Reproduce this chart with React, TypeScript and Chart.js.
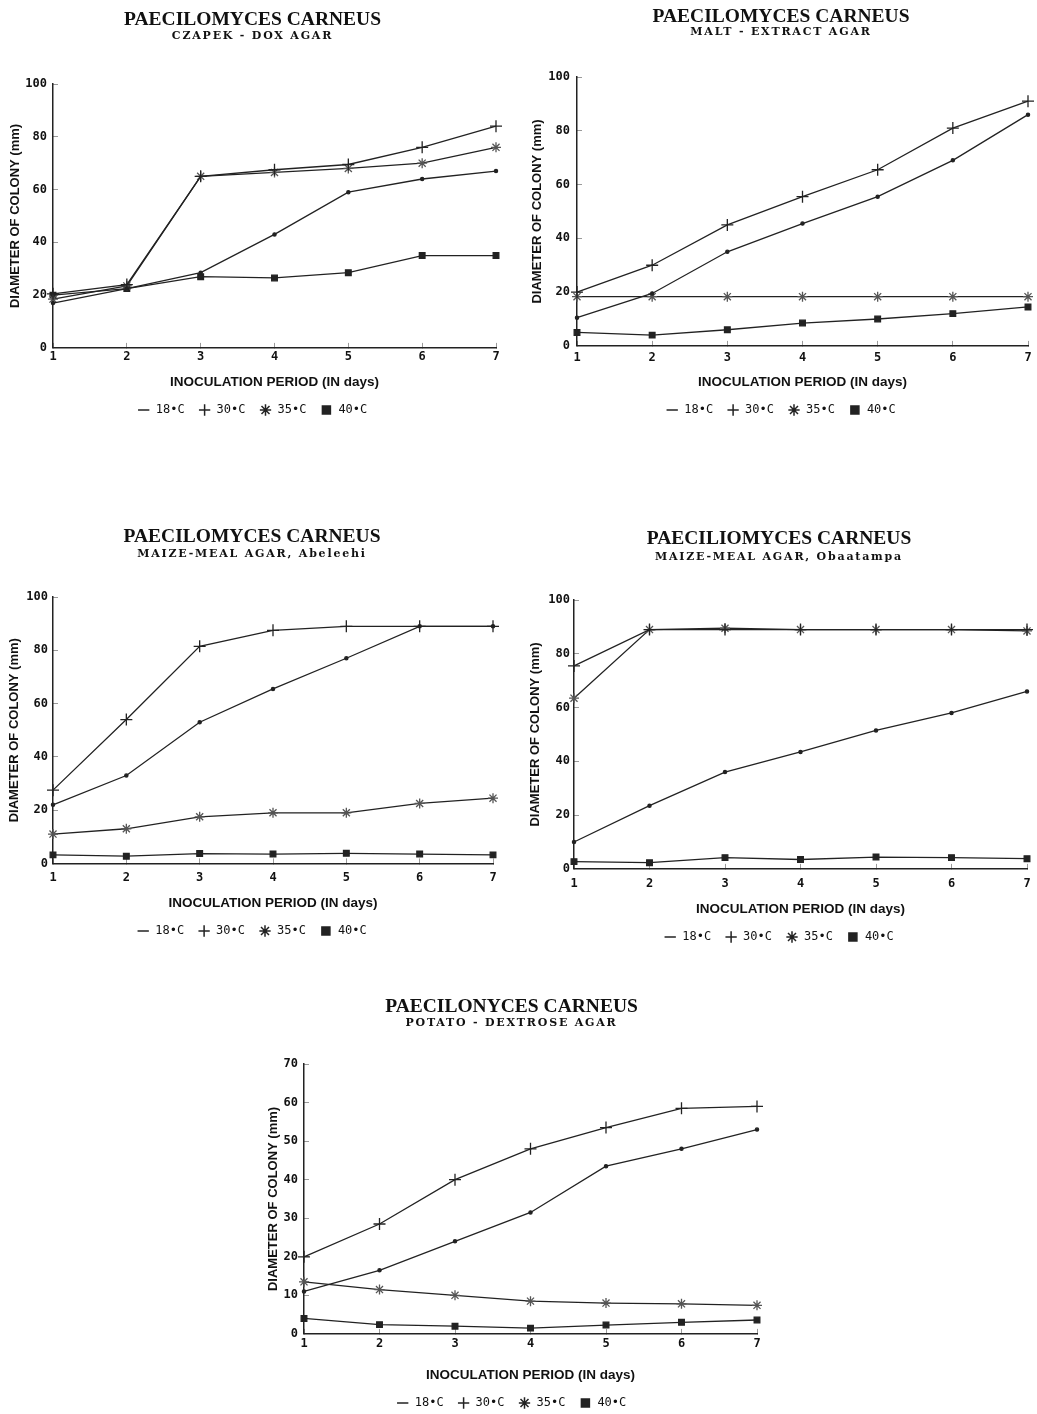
import { useEffect, useRef } from "react";
import { Chart, registerables } from "chart.js";

Chart.register(...registerables);

// ---------- data ----------
const days = ["1", "2", "3", "4", "5", "6", "7"];
const seriesLabels = ["18•C", "30•C", "35•C", "40•C"];

// Czapek-Dox agar
const czapek18 = [17, 22.5, 28.5, 43, 59, 64, 67];
const czapek30 = [20.5, 24, 65, 67.5, 69.5, 76, 84];
const czapek35 = [18.5, 23.5, 65, 66.5, 68, 70, 76];
const czapek40 = [20, 22.5, 27, 26.5, 28.5, 35, 35];

// Malt-extract agar
const malt18 = [10.5, 19.5, 35, 45.5, 55.5, 69, 86];
const malt30 = [20, 30, 45, 55.5, 65.5, 81, 91];
const malt35 = [18.3, 18.3, 18.3, 18.3, 18.3, 18.3, 18.3];
const malt40 = [5, 4, 6, 8.5, 10, 12, 14.5];

// Maize-meal agar, Abeleehi
const abeleehi18 = [22, 33, 53, 65.5, 77, 89, 89];
const abeleehi30 = [27.5, 54, 81.5, 87.5, 89, 89, 89];
const abeleehi35 = [11, 13, 17.5, 19, 19, 22.5, 24.5];
const abeleehi40 = [3.2, 2.7, 3.7, 3.5, 3.8, 3.5, 3.2];

// Maize-meal agar, Obaatampa
const obaatampa18 = [10, 23.5, 36, 43.5, 51.5, 58, 66];
const obaatampa30 = [75.5, 89, 89, 89, 89, 89, 89];
const obaatampa35 = [63.5, 89, 89.5, 89, 89, 89, 88.5];
const obaatampa40 = [2.7, 2.3, 4.2, 3.5, 4.4, 4.2, 3.8];

// Potato-dextrose agar
const potato18 = [11, 16.5, 24, 31.5, 43.5, 48, 53];
const potato30 = [20, 28.5, 40, 48, 53.5, 58.5, 59];
const potato35 = [13.5, 11.5, 10, 8.5, 8, 7.8, 7.4];
const potato40 = [4, 2.4, 2, 1.5, 2.3, 3, 3.6];

const xAxisTitle = "INOCULATION PERIOD (IN days)";
const yAxisTitle = "DIAMETER OF COLONY (mm)";

// ---------- styles ----------
const INK = "#222222";
const TITLE_SIZE = 19.5;
const SUB_SIZE = 11;
const TEXT_SHIFT = 1.5;
const TICK_SIZE = 12;
const TICK_LH = TICK_SIZE * 1.2;
const TICK_HALF_W = 3.65;
const TICK_MARK = 5;
const XT_SIZE = 13.5;
const XT_LH = XT_SIZE * 1.2;
const YT_SIZE = 13;
const YT_LH = YT_SIZE * 1.2;
const LEG_SIZE = 12;
const LEG_PAD = 14;
const LEG_H = LEG_SIZE + LEG_PAD + 10;

const pointStyles = ["circle", "cross", "star", "rect"];
const pointRadii = [1.6, 6, 5, 4];
const legendStyles = ["line", "cross", "star", "rect"];

type Layout = {
  top: number; titleCX: number;
  areaLeft: number; areaRight: number; areaTop: number; areaBottom: number;
  titleCY: number; subCY: number; tickCY: number; xTitleCY: number;
  yTitleCX: number; yTickPad: number;
};

type Panel = {
  title: string; sub: string; series: number[][];
  yMax: number; yStep: number; layout: Layout;
};

const panels: Panel[] = [
  {
    title: "PAECILOMYCES CARNEUS", sub: "CZAPEK - DOX AGAR",
    series: [czapek18, czapek30, czapek35, czapek40], yMax: 100, yStep: 20,
    layout: { top: 0, titleCX: 252.5, areaLeft: 53, areaRight: 496, areaTop: 84, areaBottom: 347,
      titleCY: 18, subCY: 35, tickCY: 356, xTitleCY: 381, yTitleCX: 15, yTickPad: 6 },
  },
  {
    title: "PAECILOMYCES CARNEUS", sub: "MALT - EXTRACT AGAR",
    series: [malt18, malt30, malt35, malt40], yMax: 100, yStep: 20,
    layout: { top: 0, titleCX: 781, areaLeft: 577, areaRight: 1028, areaTop: 77, areaBottom: 345,
      titleCY: 15, subCY: 30, tickCY: 357, xTitleCY: 381, yTitleCX: 537, yTickPad: 7 },
  },
  {
    title: "PAECILOMYCES CARNEUS", sub: "MAIZE-MEAL AGAR, Abeleehi",
    series: [abeleehi18, abeleehi30, abeleehi35, abeleehi40], yMax: 100, yStep: 20,
    layout: { top: 520, titleCX: 252, areaLeft: 53, areaRight: 493, areaTop: 597, areaBottom: 863,
      titleCY: 535.5, subCY: 552.5, tickCY: 877.5, xTitleCY: 902.5, yTitleCX: 14, yTickPad: 5 },
  },
  {
    title: "PAECILIOMYCES CARNEUS", sub: "MAIZE-MEAL AGAR, Obaatampa",
    series: [obaatampa18, obaatampa30, obaatampa35, obaatampa40], yMax: 100, yStep: 20,
    layout: { top: 520, titleCX: 779, areaLeft: 574, areaRight: 1027, areaTop: 600, areaBottom: 868,
      titleCY: 537.5, subCY: 556, tickCY: 882.5, xTitleCY: 908, yTitleCX: 535, yTickPad: 4 },
  },
  {
    title: "PAECILONYCES CARNEUS", sub: "POTATO - DEXTROSE AGAR",
    series: [potato18, potato30, potato35, potato40], yMax: 70, yStep: 10,
    layout: { top: 990, titleCX: 511.5, areaLeft: 304, areaRight: 757, areaTop: 1064, areaBottom: 1333,
      titleCY: 1005.5, subCY: 1022, tickCY: 1343, xTitleCY: 1374, yTitleCX: 273, yTickPad: 6 },
  },
];

function metrics(l: Layout) {
  const tCY = l.titleCY + TEXT_SHIFT;
  const sCY = l.subCY + TEXT_SHIFT;
  const titlePadTop = Math.max(0, tCY - l.top - TITLE_SIZE / 2);
  const titleBottom = l.top + titlePadTop + TITLE_SIZE;
  const subPadTop = Math.max(0, sCY - titleBottom - SUB_SIZE / 2);
  const subPadBottom = Math.max(0, l.areaTop - (titleBottom + subPadTop + SUB_SIZE));
  const xH = l.xTitleCY - l.areaBottom + XT_LH / 2;
  const height = Math.ceil(l.areaBottom + xH + LEG_H - l.top);
  const xTickPad = Math.max(0, l.tickCY - l.areaBottom - TICK_LH / 2) + TICK_MARK;
  // full-width boxes (titles, legend) are centred between the left layout padding and
  // the right layout padding, i.e. on (boxLeft + areaRight) / 2
  const boxLeft = Math.round(2 * l.titleCX - l.areaRight);
  const left = Math.max(0, Math.min(boxLeft, Math.floor(l.yTitleCX - 12)));
  const padLeft = boxLeft - left;
  const padRight = Math.ceil(TICK_HALF_W + xTickPad + 0.5);
  const width = l.areaRight + padRight - left;
  const yW = l.areaLeft - boxLeft;
  const yTickPad = l.yTickPad + TICK_MARK;
  // may be negative: the rotated title then sits inside the left layout padding
  const yTitlePad = l.yTitleCX - boxLeft - YT_LH / 2;
  return { titlePadTop, subPadTop, subPadBottom, xH, height, left, width, padLeft, padRight, yW, xTickPad, yTickPad, yTitlePad };
}

// Typewriter-like loose spacing for the subtitle line only.
const subtitleSpacing = {
  id: "subtitleSpacing",
  afterLayout(chart: any) {
    const subText = chart.options.plugins.subtitle.text;
    (chart.boxes || []).forEach((box: any) => {
      if (box._spaced || !box.options || box.options.text !== subText || box.position !== "top") return;
      const orig = box.draw;
      box.draw = function (...args: any[]) {
        const ctx = chart.ctx as any;
        ctx.save();
        ctx.letterSpacing = "1.8px";
        orig.apply(box, args);
        ctx.restore();
      };
      box._spaced = true;
    });
  },
};

function buildConfig(p: Panel): any {
  const m = metrics(p.layout);
  return {
    type: "line",
    data: {
      labels: days,
      datasets: p.series.map((vals, i) => ({
        label: seriesLabels[i],
        data: vals,
        borderColor: INK,
        backgroundColor: INK,
        borderWidth: 1.3,
        pointStyle: pointStyles[i],
        pointRadius: pointRadii[i],
        pointBorderWidth: 1.3,
        pointBorderColor: i === 2 ? "#555" : INK,
        pointBackgroundColor: INK,
        tension: 0,
        clip: false,
      })),
    },
    plugins: [subtitleSpacing],
    options: {
      responsive: false,
      animation: false,
      devicePixelRatio: 1,
      events: [],
      layout: { padding: { left: m.padLeft, top: 0, bottom: 0, right: m.padRight } },
      plugins: {
        title: {
          display: true,
          text: p.title,
          color: "#111",
          font: { family: "'Liberation Serif', serif", size: TITLE_SIZE, weight: "bold", lineHeight: 1 },
          padding: { top: m.titlePadTop, bottom: 0 },
        },
        subtitle: {
          display: true,
          text: p.sub,
          color: "#111",
          font: { family: "'DejaVu Serif', serif", size: SUB_SIZE, weight: "bold", lineHeight: 1 },
          padding: { top: m.subPadTop, bottom: m.subPadBottom },
        },
        legend: {
          display: true,
          position: "bottom",
          labels: {
            usePointStyle: true,
            boxWidth: 12,
            boxHeight: 8,
            padding: LEG_PAD,
            color: "#111",
            font: { family: "'DejaVu Sans Mono', monospace", size: LEG_SIZE },
            generateLabels: (chart: any) => {
              const items = (Chart.defaults.plugins.legend.labels as any).generateLabels(chart);
              return items.map((it: any, i: number) => ({
                ...it,
                pointStyle: legendStyles[i],
                lineWidth: 1.5,
                strokeStyle: INK,
                fillStyle: INK,
              }));
            },
          },
        },
        tooltip: { enabled: false },
      },
      scales: {
        x: {
          type: "category",
          offset: false,
          grid: { display: true, drawOnChartArea: false, drawTicks: true, tickLength: -TICK_MARK, color: "#9a9a9a", lineWidth: 1 },
          border: { display: true, color: INK, width: 1.5 },
          ticks: {
            color: "#111",
            padding: m.xTickPad,
            maxRotation: 0,
            font: { family: "'DejaVu Sans Mono', monospace", size: TICK_SIZE, weight: "bold" },
          },
          title: {
            display: true,
            text: xAxisTitle,
            color: "#111",
            font: { family: "'Liberation Sans', sans-serif", size: XT_SIZE, weight: "bold" },
            padding: { top: 0, bottom: 0 },
          },
          afterFit: (s: any) => { s.height = m.xH; },
        },
        y: {
          min: 0,
          max: p.yMax,
          grid: { display: true, drawOnChartArea: false, drawTicks: true, tickLength: -TICK_MARK, color: "#9a9a9a", lineWidth: 1 },
          border: { display: true, color: INK, width: 1.5 },
          ticks: {
            stepSize: p.yStep,
            color: "#111",
            padding: m.yTickPad,
            font: { family: "'DejaVu Sans Mono', monospace", size: TICK_SIZE, weight: "bold" },
          },
          title: {
            display: true,
            text: yAxisTitle,
            color: "#111",
            font: { family: "'Liberation Sans', sans-serif", size: YT_SIZE, weight: "bold" },
            padding: { top: m.yTitlePad, bottom: 0 },
          },
          afterFit: (s: any) => { s.width = m.yW; },
        },
      },
    },
  };
}

function PanelChart({ panel }: { panel: Panel }) {
  const ref = useRef<HTMLCanvasElement>(null);
  const m = metrics(panel.layout);
  useEffect(() => {
    const chart = new Chart(ref.current as HTMLCanvasElement, buildConfig(panel));
    return () => chart.destroy();
  }, [panel]);
  return (
    <canvas
      ref={ref}
      width={m.width}
      height={m.height}
      style={{ position: "absolute", left: m.left, top: panel.layout.top, width: m.width, height: m.height }}
    />
  );
}

export default function App() {
  return (
    <div
      style={{
        position: "absolute",
        left: 0,
        top: 0,
        width: 1037,
        height: 1414,
        overflow: "hidden",
        background: "#fff",
      }}
    >
      {panels.map((p, i) => (
        <PanelChart key={i} panel={p} />
      ))}
    </div>
  );
}
